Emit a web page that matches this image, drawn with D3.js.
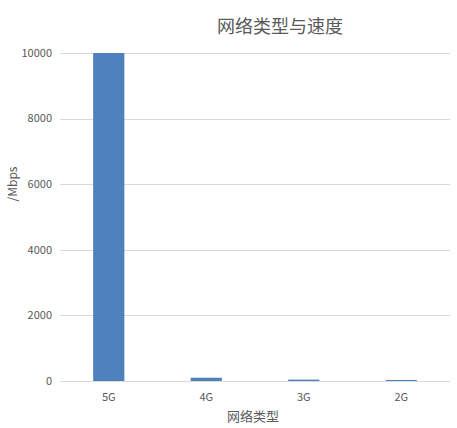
<!DOCTYPE html>
<html>
<head>
<meta charset="utf-8">
<script src="https://cdn.jsdelivr.net/npm/d3@7"></script>
<style>
  body { margin: 0; background: #fff; }
  text { font-family: "Microsoft YaHei", "Noto Sans CJK SC", "DejaVu Sans", sans-serif; }
</style>
</head>
<body>
<div id="chart"></div>
<script>
const categories = ["5G", "4G", "3G", "2G"];
const speeds = [10000, 100, 42, 30];
const yTicks = [0, 2000, 4000, 6000, 8000, 10000];

const width = 457, height = 428;
const plot = { left: 60, right: 450, top: 53, bottom: 381 };

const svg = d3.select("#chart").append("svg")
  .attr("width", width)
  .attr("height", height);

svg.append("rect").attr("width", width).attr("height", height).attr("fill", "#fff");

const x = d3.scaleBand()
  .domain(categories)
  .range([plot.left, plot.right])
  .padding(0);

const y = d3.scaleLinear()
  .domain([0, 10000])
  .range([plot.bottom, plot.top]);

// gridlines
svg.append("g")
  .selectAll("line")
  .data(yTicks)
  .enter()
  .append("line")
  .attr("x1", plot.left)
  .attr("x2", plot.right)
  .attr("y1", d => Math.round(y(d)) + 0.5)
  .attr("y2", d => Math.round(y(d)) + 0.5)
  .style("stroke", "#d9d9d9")
  .style("stroke-width", "1px");

// y tick labels
svg.append("g")
  .selectAll("text")
  .data(yTicks)
  .enter()
  .append("text")
  .attr("x", 52)
  .attr("y", d => y(d))
  .attr("dy", "0.35em")
  .attr("text-anchor", "end")
  .attr("fill", "#595959")
  .style("font-size", "11px")
  .text(d => d);

// bars
const barW = x.bandwidth() * 0.32;
svg.append("g")
  .selectAll("rect")
  .data(speeds)
  .enter()
  .append("rect")
  .attr("x", (d, i) => x(categories[i]) + (x.bandwidth() - barW) / 2)
  .attr("y", d => y(d))
  .attr("width", barW)
  .attr("height", d => Math.max(1, plot.bottom - y(d)))
  .attr("fill", "#4f81bd");

// x axis line over bars
svg.append("line")
  .attr("x1", plot.left)
  .attr("x2", plot.right)
  .attr("y1", plot.bottom + 0.5)
  .attr("y2", plot.bottom + 0.5)
  .style("stroke", "#d9d9d9");

// x tick labels
svg.append("g")
  .selectAll("text")
  .data(categories)
  .enter()
  .append("text")
  .attr("x", d => x(d) + x.bandwidth() / 2)
  .attr("y", 397)
  .attr("dy", "0.35em")
  .attr("text-anchor", "middle")
  .attr("fill", "#595959")
  .style("font-size", "11px")
  .text(d => d);

// titles
svg.append("text")
  .attr("x", 280)
  .attr("y", 27)
  .attr("dy", "0.35em")
  .attr("text-anchor", "middle")
  .attr("fill", "#595959")
  .style("font-size", "18px")
  .text("网络类型与速度");

svg.append("text")
  .attr("x", 253)
  .attr("y", 416)
  .attr("dy", "0.35em")
  .attr("text-anchor", "middle")
  .attr("fill", "#595959")
  .style("font-size", "13px")
  .text("网络类型");

svg.append("text")
  .attr("transform", "translate(13,184) rotate(-90)")
  .attr("dy", "0.35em")
  .attr("text-anchor", "middle")
  .attr("fill", "#595959")
  .style("font-size", "12px")
  .text("/Mbps");
</script>
</body>
</html>
